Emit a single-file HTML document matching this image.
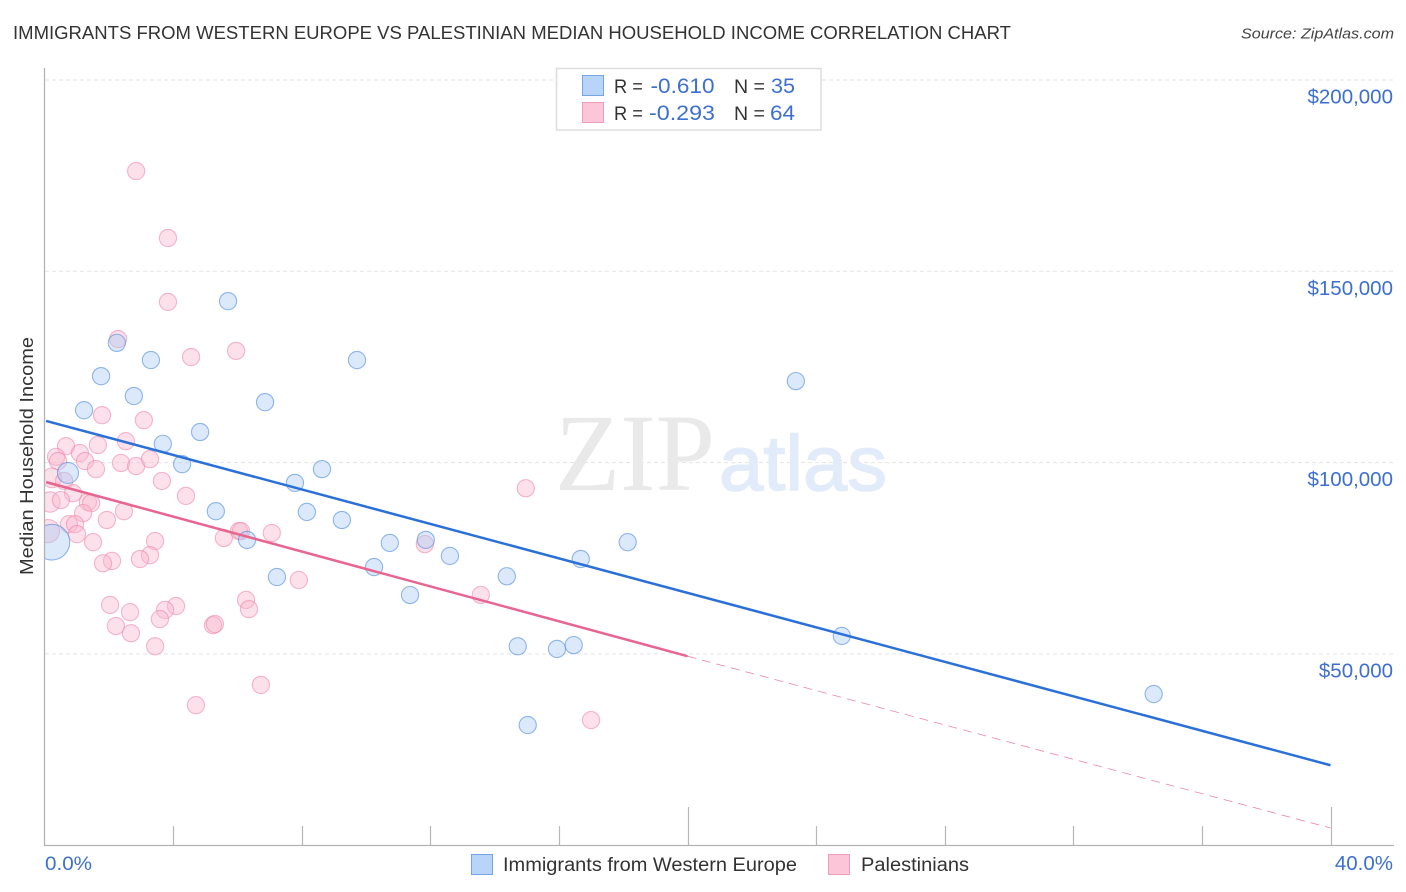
<!DOCTYPE html>
<html lang="en">
<head>
<meta charset="utf-8">
<title>Immigrants from Western Europe vs Palestinian Median Household Income Correlation Chart</title>
<style>
html,body{margin:0;padding:0;background:#fff;width:1406px;height:892px;overflow:hidden}
svg{display:block}
text{font-family:"Liberation Sans",sans-serif}
</style>
</head>
<body>
<svg id="chart" xmlns="http://www.w3.org/2000/svg" width="1406" height="892" viewBox="0 0 1406 892">
  <defs><clipPath id="plot-clip"><rect x="45" y="60" width="1349" height="785"/></clipPath></defs>
  <text x="13" y="39" font-size="18.5" fill="#333" textLength="998" lengthAdjust="spacingAndGlyphs">IMMIGRANTS FROM WESTERN EUROPE VS PALESTINIAN MEDIAN HOUSEHOLD INCOME CORRELATION CHART</text>
  <text x="1241" y="38.500" font-size="15" font-style="italic" fill="#444" textLength="153" lengthAdjust="spacingAndGlyphs">Source: ZipAtlas.com</text>

  <g id="grid"></g>

  <g>
    <text x="555" y="490" font-size="110" style='font-family:"Liberation Serif",serif' fill="#e9e9e9" textLength="160" lengthAdjust="spacingAndGlyphs">ZIP</text>
    <text x="719" y="490" font-size="78" fill="#e2ebf9" stroke="#e2ebf9" stroke-width="1.5" textLength="168" lengthAdjust="spacingAndGlyphs">atlas</text>
  </g>

  <g id="points" clip-path="url(#plot-clip)"></g>
  <g id="lines"></g>
  <g id="axes"></g>

  <text transform="translate(33,456) rotate(-90)" text-anchor="middle" font-size="18.500" fill="#333" textLength="238" lengthAdjust="spacingAndGlyphs">Median Household Income</text>

  <g>
    <rect x="556.5" y="68.5" width="264.500" height="61.500" fill="#fff" stroke="#ddd" stroke-width="1.5"/>
    <rect x="582.5" y="75.500" width="21" height="20" fill="#b9d4f9" stroke="#74a5e6" stroke-width="1"/>
    <rect x="582.5" y="102.500" width="21" height="20" fill="#fcc6d8" stroke="#f09db7" stroke-width="1"/>
    <text x="614" y="93" font-size="19" fill="#333" textLength="29" lengthAdjust="spacingAndGlyphs">R =</text>
    <text x="650.500" y="93" font-size="21" fill="#3d6fd1" textLength="64" lengthAdjust="spacingAndGlyphs">-0.610</text>
    <text x="734" y="93" font-size="19" fill="#333" textLength="31" lengthAdjust="spacingAndGlyphs">N =</text>
    <text x="771" y="93" font-size="21" fill="#3d6fd1" textLength="24" lengthAdjust="spacingAndGlyphs">35</text>
    <text x="614" y="120" font-size="19" fill="#333" textLength="29" lengthAdjust="spacingAndGlyphs">R =</text>
    <text x="649" y="120" font-size="21" fill="#3d6fd1" textLength="66" lengthAdjust="spacingAndGlyphs">-0.293</text>
    <text x="734" y="120" font-size="19" fill="#333" textLength="31" lengthAdjust="spacingAndGlyphs">N =</text>
    <text x="770" y="120" font-size="21" fill="#3d6fd1" textLength="25" lengthAdjust="spacingAndGlyphs">64</text>
  </g>

  <g>
    <rect x="471.500" y="854.500" width="21" height="20" fill="#b9d4f9" stroke="#74a5e6" stroke-width="1"/>
    <text x="503" y="871" font-size="19" fill="#333" textLength="294" lengthAdjust="spacingAndGlyphs">Immigrants from Western Europe</text>
    <rect x="828.500" y="854.500" width="21" height="20" fill="#fcc6d8" stroke="#f09db7" stroke-width="1"/>
    <text x="861" y="871" font-size="19" fill="#333" textLength="108" lengthAdjust="spacingAndGlyphs">Palestinians</text>
  </g>
</svg>
<script>
const yTickValues = [200000, 150000, 100000, 50000];
const yTickLabels = ["$200,000", "$150,000", "$100,000", "$50,000"];
const xTickValues = [4, 8, 12, 16, 20, 24, 28, 32, 36, 40];
const xMajorTicks = [20, 40];
const xEdgeLabels = ["0.0%", "40.0%"];

const westernEuropePct = [0.23,0.73,1.23,1.76,2.25,2.78,3.31,3.68,4.28,4.84,5.33,5.71,6.30,6.86,7.23,7.79,8.16,8.63,9.25,9.72,10.25,10.74,11.37,11.86,12.61,14.38,14.72,15.03,15.94,16.46,16.68,18.14,23.37,24.80,34.50];
const westernEuropeIncome = [79200,97300,113700,122600,131300,117400,126800,104900,99600,108000,87300,142200,79800,115800,70100,94700,87100,98300,85000,126800,72700,79000,65400,79800,75600,70300,52000,31400,51300,52300,74800,79200,121300,54700,39500];
const westernEuropeWeight = [4.3,1.5,1,1,1,1,1,1,1,1,1,1,1,1,1,1,1,1,1,1,1,1,1,1,1,1,1,1,1,1,1,1,1,1,1];

const palestinianPct = [1.79,3.09,0.67,0.36,0.42,1.10,1.26,1.66,2.53,1.60,2.38,2.85,3.28,0.23,0.61,3.65,4.40,0.89,0.17,0.51,1.35,1.45,1.20,2.47,1.94,0.76,0.95,0.11,1.01,1.51,3.44,5.58,6.05,6.11,7.07,3.28,2.97,2.10,1.82,7.91,6.27,6.36,2.04,2.66,4.09,3.75,3.59,2.22,2.69,5.24,5.30,3.44,2.85,3.84,3.84,2.29,4.56,5.96,6.73,4.71,17.00,14.97,13.57,11.83];
const palestinianIncome = [112400,111100,104300,101500,100400,102500,100400,104600,105600,98300,99900,99100,100900,96000,95200,95200,91300,92000,89700,90200,89700,89400,86800,87300,85000,83900,83900,82100,81300,79200,79500,80300,82100,82100,81600,75800,74800,74300,73700,69300,64100,61700,62800,60900,62500,61500,59100,57300,55400,57500,57800,52000,176200,158700,142000,132300,127600,129200,41900,36600,32700,93300,65400,78700];
const palestinianWeight = [1,1,1,1,1,1,1,1,1,1,1,1,1,1.3,1,1,1,1,1.4,1,1,1,1,1,1,1,1,1.8,1,1,1,1,1,1,1,1,1,1,1,1,1,1,1,1,1,1,1,1,1,1,1,1,1,1,1,1,1,1,1,1,1,1,1,1];

const westernEuropeTrendPct = [0.05, 40];
const westernEuropeTrendIncome = [110900, 20900];
const palestinianSolidPct = [0.05, 20];
const palestinianSolidIncome = [94900, 49400];
const palestinianDashedPct = [20, 40];
const palestinianDashedIncome = [49400, 4500];

const NS = "http://www.w3.org/2000/svg";
function xScale(pct) { return 44.5 + pct * 32.15; }
function yScale(income) { return 80 + (200000 - income) * 191.3 / 50000; }
function rScale(weight) { return 8.6 * Math.sqrt(weight); }
function make(tag, parent, attrs, text) {
  const el = document.createElementNS(NS, tag);
  for (const k in attrs) el.setAttribute(k, attrs[k]);
  if (text !== undefined) el.textContent = text;
  parent.appendChild(el);
  return el;
}

const grid = document.getElementById("grid");
const axes = document.getElementById("axes");
const pointsGroup = document.getElementById("points");
const linesGroup = document.getElementById("lines");

yTickValues.forEach(function (v, i) {
  const g = make("line", grid, {x1: 45, x2: 1394, y1: yScale(v), y2: yScale(v), stroke: "#e3e3e3", "stroke-width": 1, "stroke-dasharray": "4 3"});
  
  
  const t = make("text", axes, {x: 1393, y: yScale(v) + 23.5, "text-anchor": "end", "font-size": 20.5, fill: "#3d6fd1"}, yTickLabels[i]);
  
  
});

const yAxis = make("line", axes, {x1: 44.5, x2: 44.5, y1: 68, y2: 846, stroke: "#b3b3b3", "stroke-width": 1.3});


const xAxis = make("line", axes, {x1: 44, x2: 1394, y1: 845.5, y2: 845.5, stroke: "#b3b3b3", "stroke-width": 1.3});



xTickValues.forEach(function (v) {
  const top = xMajorTicks.indexOf(v) >= 0 ? 807 : 826;
  const px = Math.round(xScale(v)) + 0.5;
  const tick = make("line", axes, {x1: px, x2: px, y1: top, y2: 845, stroke: "#b8b8b8", "stroke-width": 1.2});
  
  
});

const xLabelMin = make("text", axes, {x: 45, y: 870, "font-size": 19, fill: "#3d6fd1", textLength: 47, lengthAdjust: "spacingAndGlyphs"}, xEdgeLabels[0]);


const xLabelMax = make("text", axes, {x: 1393, y: 870, "text-anchor": "end", "font-size": 20.5, fill: "#3d6fd1"}, xEdgeLabels[1]);



function drawSeries(xs, ys, weights, fill, stroke) {
  xs.forEach(function (x, i) {
    const c = make("circle", pointsGroup, {cx: xScale(x), cy: yScale(ys[i]), r: rScale(weights[i]), fill: fill, "fill-opacity": 0.42, stroke: stroke, "stroke-opacity": 0.6, "stroke-width": 1.1});
    
    
  });
}
drawSeries(palestinianPct, palestinianIncome, palestinianWeight, "#f9b8cc", "#ee89a8");
drawSeries(westernEuropePct, westernEuropeIncome, westernEuropeWeight, "#a9cbf5", "#4d8ade");

function drawLine(xs, ys, color, width, dash, name) {
  const l = make("line", linesGroup, {x1: xScale(xs[0]), y1: yScale(ys[0]), x2: xScale(xs[1]), y2: yScale(ys[1]), stroke: color, "stroke-width": width});
  if (dash) l.setAttribute("stroke-dasharray", dash);
  
  
}
drawLine(palestinianDashedPct, palestinianDashedIncome, "#ee86a6", 0.8, "9 6", "palestinian-trend-extrapolated");
drawLine(palestinianSolidPct, palestinianSolidIncome, "#e8658f", 2.5, null, "palestinian-trend-line");
drawLine(westernEuropeTrendPct, westernEuropeTrendIncome, "#2a70d8", 2.5, null, "western-europe-trend-line");
</script>
</body>
</html>
